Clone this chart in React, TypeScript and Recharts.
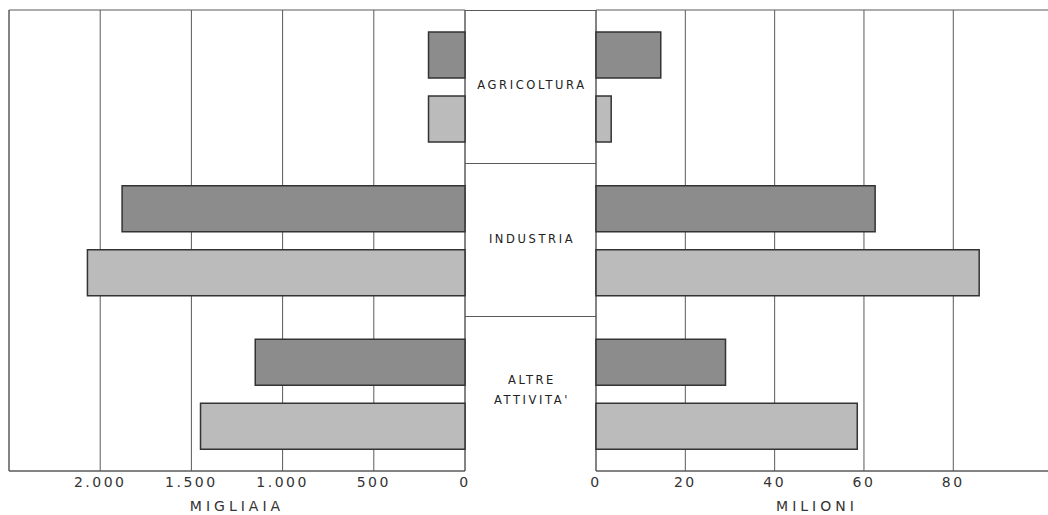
import React from "react";
import {
  BarChart,
  Bar,
  XAxis,
  YAxis,
  CartesianGrid,
  ReferenceArea,
} from "recharts";

// categories (center labels)
const categories = ["AGRICOLTURA", "INDUSTRIA", "ALTRE ATTIVITA'"];

// left side: migliaia
const leftDark = [200, 1880, 1150];
const leftLight = [200, 2070, 1450];
const leftTicks = [0, 500, 1000, 1500, 2000];

// right side: milioni
const rightDark = [14.5, 62.5, 29];
const rightLight = [3.4, 85.8, 58.5];
const rightTicks = [0, 20, 40, 60, 80];

const leftData = categories.map((name, i) => ({
  name,
  dark: leftDark[i],
  light: leftLight[i],
}));

const rightData = categories.map((name, i) => ({
  name,
  dark: rightDark[i],
  light: rightLight[i],
}));

const FONT = "'DejaVu Sans', sans-serif";
const LINE = "#5a5a5a";
const DARK = "#8c8c8c";
const LIGHT = "#bbbbbb";
const EDGE = "#333333";

const tickStyle = {
  fontSize: 14,
  fill: "#333",
  fontFamily: FONT,
  letterSpacing: 2.5,
};

const labelStyle = {
  fontSize: 14,
  fill: "#333",
  fontFamily: FONT,
  letterSpacing: 4,
};

const fmtThousands = (v: number) =>
  v >= 1000 ? `${Math.floor(v / 1000)}.${String(v % 1000).padStart(3, "0")}` : `${v}`;

const TOP = 10;
const PLOT_H = 461;
const CENTER_L = 465;
const CENTER_R = 596;
const PAD = 20; // extra room so the "0" ticks are not clipped

const band = PLOT_H / categories.length;

const CenterColumn = () => (
  <div
    style={{
      position: "absolute",
      left: CENTER_L,
      top: TOP,
      width: CENTER_R - CENTER_L,
      height: PLOT_H,
      fontFamily: FONT,
      fontSize: 11.5,
      letterSpacing: 2.6,
      color: "#222",
    }}
  >
    <div style={{ position: "absolute", left: 0, right: 0, top: 0, borderTop: `1px solid ${LINE}` }} />
    {categories.map((c, i) => (
      <React.Fragment key={c}>
        {i > 0 && (
          <div
            style={{
              position: "absolute",
              left: 0,
              right: 0,
              top: Math.round(band * i) - 1,
              borderTop: `1px solid ${LINE}`,
            }}
          />
        )}
        <div
          style={{
            position: "absolute",
            left: 3,
            right: 0,
            top: band * i + band / 2 - (i === 2 ? 24 : 12),
            textAlign: "center",
            lineHeight: "20px",
          }}
        >
          {c === "ALTRE ATTIVITA'" ? (
            <>
              ALTRE
              <br />
              ATTIVITA'
            </>
          ) : (
            c
          )}
        </div>
      </React.Fragment>
    ))}
  </div>
);

export default function App() {
  return (
    <div
      style={{
        position: "absolute",
        left: 0,
        top: 0,
        width: 1048,
        height: 515,
        background: "#fff",
        overflow: "hidden",
      }}
    >
      <div style={{ position: "absolute", left: 0, top: 0 }}>
        <BarChart
          width={CENTER_L + PAD}
          height={515}
          layout="vertical"
          data={leftData}
          margin={{ top: TOP, left: 9, right: PAD, bottom: 0 }}
          barSize={46}
          barGap={18}
        >
          <CartesianGrid horizontal={false} stroke={LINE} strokeWidth={1} />
          <XAxis
            type="number"
            domain={[0, 2500]}
            ticks={leftTicks}
            interval={0}
            reversed
            height={44}
            tickLine={false}
            tickSize={0}
            tickMargin={6}
            axisLine={{ stroke: LINE }}
            tick={tickStyle}
            tickFormatter={fmtThousands}
            label={{
              value: "MIGLIAIA",
              position: "insideBottom",
              offset: 4,
              style: labelStyle,
            }}
          />
          <YAxis type="category" dataKey="name" hide />
          <ReferenceArea x1={0} x2={2500} fill="none" stroke={LINE} strokeWidth={1} />
          <Bar dataKey="dark" fill={DARK} stroke={EDGE} strokeWidth={1.5} isAnimationActive={false} />
          <Bar dataKey="light" fill={LIGHT} stroke={EDGE} strokeWidth={1.5} isAnimationActive={false} />
        </BarChart>
      </div>

      <CenterColumn />

      <div style={{ position: "absolute", left: CENTER_R - PAD, top: 0 }}>
        <BarChart
          width={460 + PAD}
          height={515}
          layout="vertical"
          data={rightData}
          margin={{ top: TOP, left: PAD, right: 0, bottom: 0 }}
          barSize={46}
          barGap={18}
        >
          <CartesianGrid horizontal={false} stroke={LINE} strokeWidth={1} />
          <XAxis
            type="number"
            domain={[0, 103]}
            ticks={rightTicks}
            interval={0}
            height={44}
            tickLine={false}
            tickSize={0}
            tickMargin={6}
            axisLine={{ stroke: LINE }}
            tick={tickStyle}
            label={{
              value: "MILIONI",
              position: "insideBottom",
              offset: 4,
              dx: -9,
              style: labelStyle,
            }}
          />
          <YAxis type="category" dataKey="name" hide />
          <ReferenceArea x1={0} x2={103} fill="none" stroke={LINE} strokeWidth={1} />
          <Bar dataKey="dark" fill={DARK} stroke={EDGE} strokeWidth={1.5} isAnimationActive={false} />
          <Bar dataKey="light" fill={LIGHT} stroke={EDGE} strokeWidth={1.5} isAnimationActive={false} />
        </BarChart>
      </div>
    </div>
  );
}
